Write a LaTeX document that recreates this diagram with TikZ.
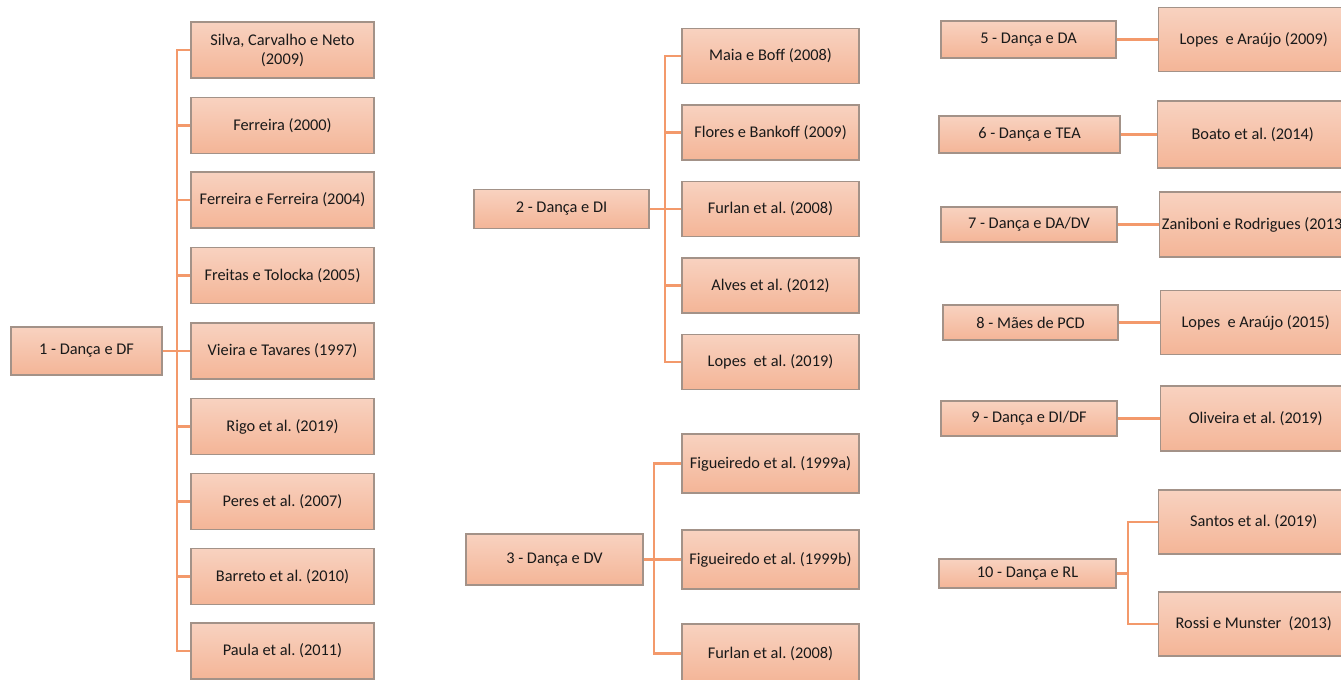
\documentclass[tikz,border=0pt]{standalone}
\usepackage{fontspec}
\setmainfont{Carlito}
\usepackage{xcolor}
\usepackage{tikz}
\usetikzlibrary{calc}
\definecolor{peachtop}{HTML}{F8D2C0}
\definecolor{peachbot}{HTML}{F4B597}
\definecolor{edgegray}{HTML}{A39288}
\definecolor{linkorange}{HTML}{F3996B}
\frenchspacing

\begin{document}
\begin{tikzpicture}[x=0.02cm, y=-0.02cm,
    box/.style={rectangle, draw=edgegray, line width=0.8pt, top color=peachtop, bottom color=peachbot,
        inner sep=0pt, align=center, font=\fontsize{9.3}{10.8}\selectfont, text=black!90},
    link/.style={draw=linkorange, line width=1.3pt}]
    \useasboundingbox (0,0) rectangle (1341,679);
    %
    % group 1
    \node[box, minimum width=151*0.02cm, minimum height=48*0.02cm] (df) at (86.5,351) {1 - Dança e DF};
    \node[box, minimum width=183*0.02cm, minimum height=56*0.02cm] (silva) at (282.5,50) {Silva, Carvalho e Neto\\(2009)};
    \node[box, minimum width=183*0.02cm, minimum height=56*0.02cm] (ferreira) at (282.5,125.5) {Ferreira (2000)};
    \node[box, minimum width=183*0.02cm, minimum height=56*0.02cm] (ferreiras) at (282.5,200) {Ferreira e Ferreira (2004)};
    \node[box, minimum width=183*0.02cm, minimum height=56*0.02cm] (freitas) at (282.5,275.5) {Freitas e Tolocka (2005)};
    \node[box, minimum width=183*0.02cm, minimum height=56*0.02cm] (vieira) at (282.5,351) {Vieira e Tavares (1997)};
    \node[box, minimum width=183*0.02cm, minimum height=56*0.02cm] (rigo) at (282.5,426.5) {Rigo et al. (2019)};
    \node[box, minimum width=183*0.02cm, minimum height=56*0.02cm] (peres) at (282.5,501.5) {Peres et al. (2007)};
    \node[box, minimum width=183*0.02cm, minimum height=56*0.02cm] (barreto) at (282.5,576.5) {Barreto et al. (2010)};
    \node[box, minimum width=183*0.02cm, minimum height=56*0.02cm] (paula) at (282.5,651) {Paula et al. (2011)};
    \coordinate (t1) at (177,351);
    \draw[link] (df) -- (t1);
    \draw[link] (t1) |- (silva);
    \draw[link] (t1) |- (ferreira);
    \draw[link] (t1) |- (ferreiras);
    \draw[link] (t1) |- (freitas);
    \draw[link] (t1) -- (vieira);
    \draw[link] (t1) |- (rigo);
    \draw[link] (t1) |- (peres);
    \draw[link] (t1) |- (barreto);
    \draw[link] (t1) |- (paula);
    %
    % group 2
    \node[box, minimum width=175*0.02cm, minimum height=39*0.02cm] (di) at (561.5,209) {2 - Dança e DI};
    \node[box, minimum width=177*0.02cm, minimum height=55*0.02cm] (maia) at (770.5,56) {Maia e Boff (2008)};
    \node[box, minimum width=177*0.02cm, minimum height=55*0.02cm] (flores) at (770.5,132.5) {Flores e Bankoff (2009)};
    \node[box, minimum width=177*0.02cm, minimum height=55*0.02cm] (furlana) at (770.5,209) {Furlan et al. (2008)};
    \node[box, minimum width=177*0.02cm, minimum height=55*0.02cm] (alves) at (770.5,285.5) {Alves et al. (2012)};
    \node[box, minimum width=177*0.02cm, minimum height=55*0.02cm] (lopesb) at (770.5,362) {Lopes\ \ et al. (2019)};
    \coordinate (t2) at (665,209);
    \draw[link] (di) -- (t2);
    \draw[link] (t2) |- (maia);
    \draw[link] (t2) |- (flores);
    \draw[link] (t2) -- (furlana);
    \draw[link] (t2) |- (alves);
    \draw[link] (t2) |- (lopesb);
    %
    % group 3
    \node[box, minimum width=177*0.02cm, minimum height=51*0.02cm] (dv) at (554.5,559.5) {3 - Dança e DV};
    \node[box, minimum width=177*0.02cm, minimum height=59*0.02cm] (figa) at (770.5,463.5) {Figueiredo et al. (1999a)};
    \node[box, minimum width=177*0.02cm, minimum height=59*0.02cm] (figb) at (770.5,559.5) {Figueiredo et al. (1999b)};
    \node[box, minimum width=177*0.02cm, minimum height=59*0.02cm] (furlanb) at (770.5,653.5) {Furlan et al. (2008)};
    \coordinate (t3) at (654,559.5);
    \draw[link] (dv) -- (t3);
    \draw[link] (t3) |- (figa);
    \draw[link] (t3) -- (figb);
    \draw[link] (t3) |- (furlanb);
    %
    % groups 5 to 9
    \node[box, minimum width=175*0.02cm, minimum height=37*0.02cm] (da) at (1028.5,39.5) {5 - Dança e DA};
    \node[box, anchor=west, minimum width=190*0.02cm, minimum height=64*0.02cm] (lopesa) at (1158,39.5) {Lopes\ \ e Araújo (2009)};
    \draw[link] (da) -- (lopesa);
    %
    \node[box, minimum width=181*0.02cm, minimum height=37*0.02cm] (tea) at (1029.5,134.5) {6 - Dança e TEA};
    \node[box, anchor=west, minimum width=190*0.02cm, minimum height=67*0.02cm] (boato) at (1157,134.5) {Boato et al. (2014)};
    \draw[link] (tea) -- (boato);
    %
    \node[box, minimum width=176*0.02cm, minimum height=35*0.02cm] (dadv) at (1029,224.5) {7 - Dança e DA/DV};
    \node[box, anchor=west, minimum width=190*0.02cm, minimum height=65*0.02cm] (zaniboni) at (1159,224.5) {Zaniboni e Rodrigues (2013)};
    \draw[link] (dadv) -- (zaniboni);
    %
    \node[box, minimum width=175*0.02cm, minimum height=35*0.02cm] (pcd) at (1030.5,322.5) {8 - Mães de PCD};
    \node[box, anchor=west, minimum width=190*0.02cm, minimum height=64*0.02cm] (lopesc) at (1160,322.5) {Lopes\ \ e Araújo (2015)};
    \draw[link] (pcd) -- (lopesc);
    %
    \node[box, minimum width=176*0.02cm, minimum height=35*0.02cm] (didf) at (1029,418.5) {9 - Dança e DI/DF};
    \node[box, anchor=west, minimum width=190*0.02cm, minimum height=65*0.02cm] (oliveira) at (1160,418.5) {Oliveira et al. (2019)};
    \draw[link] (didf) -- (oliveira);
    %
    % group 10
    \node[box, minimum width=177*0.02cm, minimum height=29*0.02cm] (rl) at (1027.5,573.5) {10 - Dança e RL};
    \node[box, anchor=west, minimum width=190*0.02cm, minimum height=64*0.02cm] (santos) at (1158,522) {Santos et al. (2019)};
    \node[box, anchor=west, minimum width=190*0.02cm, minimum height=64*0.02cm] (rossi) at (1158,624) {Rossi e Munster\ \ (2013)};
    \coordinate (t10) at (1128,573.5);
    \draw[link] (rl) -- (t10);
    \draw[link] (t10) |- (santos);
    \draw[link] (t10) |- (rossi);
\end{tikzpicture}
\end{document}
